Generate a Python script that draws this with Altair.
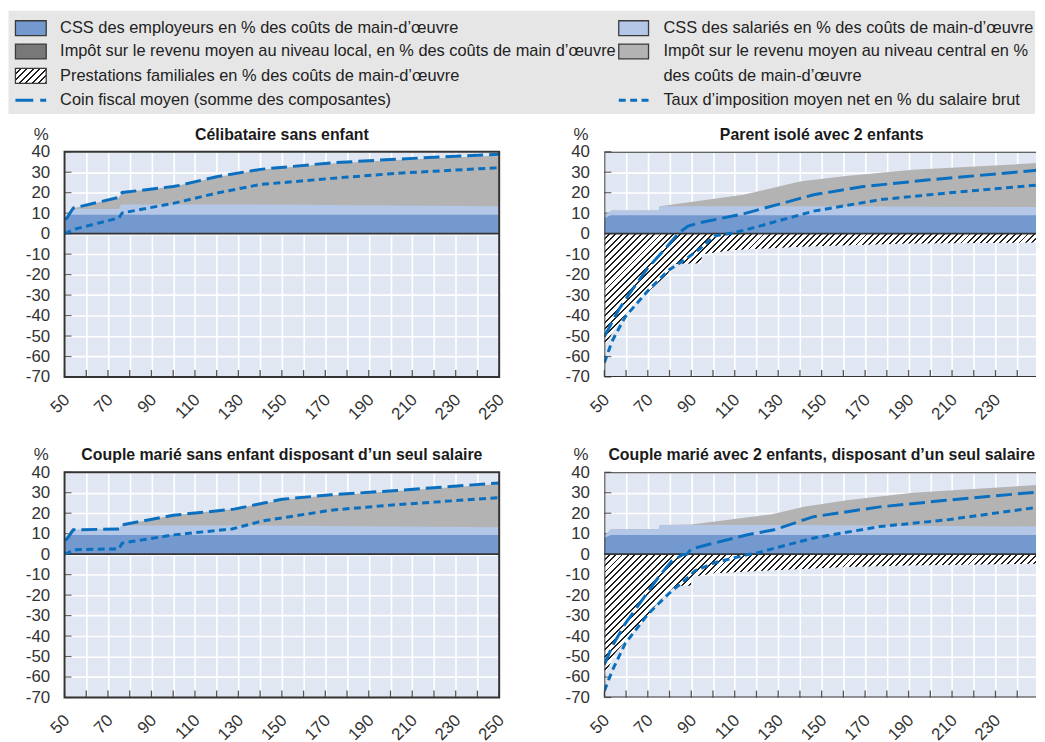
import math
import altair as alt
import pandas as pd

FONT = "Liberation Sans"
W, H = 438, 227
W_RIGHT = 435          # right-hand panels are cut by the page edge, as in the original
X_MAX_RIGHT = 50 + W_RIGHT / W * 200
BG = "#e1e6f3"
DARK_BLUE = "#7399cf"
LIGHT_BLUE = "#b4c7e6"
GRAY = "#b3b3b4"
LOCAL_GRAY = "#787878"
LINE_BLUE = "#0b6fbf"
LEGEND_BG = "#e6e6e6"

X_TICKS = list(range(50, 251, 10))
Y_TICKS = list(range(-70, 41, 10))

TITLES = [
    "Célibataire sans enfant",
    "Parent isolé avec 2 enfants",
    "Couple marié sans enfant disposant d’un seul salaire",
    "Couple marié avec 2 enfants, disposant d’un seul salaire",
]

LEGEND_LEFT = [
    "CSS des employeurs en % des coûts de main-d’œuvre",
    "Impôt sur le revenu moyen au niveau local, en % des coûts de main d’œuvre",
    "Prestations familiales en % des coûts de main-d’œuvre",
    "Coin fiscal moyen (somme des composantes)",
]
LEGEND_RIGHT = [
    "CSS des salariés en % des coûts de main-d’œuvre",
    "Impôt sur le revenu moyen au niveau central en %",
    "des coûts de main-d’œuvre",
    "Taux d’imposition moyen net en % du salaire brut",
]

# ---- Panel 1: Célibataire sans enfant (cumulative tops of each layer) ----
P1_EMPLOYER = [(50, 6.0), (52, 9.2), (250, 9.2)]
P1_EMPLOYEE = [(50, 7.3), (53, 12.1), (75, 12.1), (76, 14.3), (140, 14.3), (250, 13.4)]
P1_CENTRAL = [(50, 7.3), (53, 12.1), (55, 12.6), (75, 17.7), (76.5, 20.1), (100, 23.0),
              (103, 23.6), (120, 27.6), (140, 31.2), (173, 34.3), (203, 36.0), (250, 38.2)]
P1_WEDGE = [(50, 7.3), (51, 7.5), (54, 12.5), (75, 17.7), (76.5, 20.1), (100, 23.0),
            (103, 23.6), (120, 27.8), (140, 31.4), (173, 34.6), (203, 36.4), (250, 38.8)]
P1_NET = [(50, 0.0), (55, 2.3), (75, 7.7), (76.5, 10.1), (100, 14.8), (120, 19.8),
          (140, 24.0), (173, 27.0), (203, 29.5), (250, 32.2)]

# ---- Panel 2: Parent isolé avec 2 enfants ----
P2_EMPLOYER = [(50, 7.6), (53, 9.0), (250, 9.0)]
P2_EMPLOYEE = [(50, 9.0), (53.5, 11.3), (75, 11.3), (75.5, 13.4), (140, 13.4), (250, 13.0)]
P2_CENTRAL = [(50, 9.0), (53.5, 11.3), (75, 11.3), (75.5, 13.4), (114, 19.0), (140, 25.5),
              (160, 28.0), (192, 31.2), (250, 34.5)]
P2_BENEFITS = [(50, -55.0), (55, -46.2), (60, -39.0), (64, -34.1), (70, -28.5), (75, -23.7),
               (79.4, -19.3), (81, -14.8), (94.5, -14.5), (95, -10.0), (110, -8.0),
               (140, -6.4), (190, -4.8), (250, -4.3)]
P2_WEDGE = [(50, -50.2), (56.5, -37.3), (62.6, -27.7), (70.2, -16.4), (77.9, -7.5), (83.9, 0.0),
            (88.5, 3.7), (93.8, 5.3), (114.4, 9.8), (146.3, 19.0), (169.2, 23.0),
            (199.6, 26.3), (250, 31.0)]
P2_NET = [(50, -63.0), (53.5, -52.6), (59.6, -40.6), (70.2, -27.7), (79.4, -18.0), (88.5, -11.6),
          (93.8, -7.5), (100.7, -1.1), (108.3, 0.2), (115.9, 2.1), (146.3, 11.0),
          (176.8, 16.6), (207.2, 19.8), (250, 23.8)]

# ---- Panel 3: Couple marié sans enfant, un seul salaire ----
P3_EMPLOYER = [(50, 5.8), (52, 9.3), (250, 9.3)]
P3_EMPLOYEE = [(50, 7.0), (53, 11.9), (75, 11.9), (76, 14.0), (140, 14.0), (250, 13.2)]
P3_CENTRAL = [(50, 7.0), (53, 11.9), (54, 11.9), (75.3, 12.3), (76.5, 14.3), (100, 19.0),
              (128, 22.0), (150, 26.6), (172.7, 28.8), (203, 30.9), (250, 34.3)]
P3_WEDGE = [(50, 7.0), (51, 7.3), (54, 11.9), (75.3, 12.3), (76.5, 14.3), (100, 19.0),
            (128, 22.0), (150, 26.8), (172.7, 29.0), (203, 31.1), (250, 34.8)]
P3_NET = [(50, 0.0), (51, 0.3), (54.3, 2.2), (75, 2.6), (76.5, 5.4), (100, 9.4), (127, 12.3),
          (141, 16.2), (172.7, 21.5), (203, 24.2), (250, 27.6)]

# ---- Panel 4: Couple marié avec 2 enfants, un seul salaire ----
P4_EMPLOYER = [(50, 7.9), (53, 9.3), (250, 9.3)]
P4_EMPLOYEE = [(50, 9.0), (53, 12.2), (75, 12.2), (75.5, 14.3), (140, 14.3), (250, 13.5)]
P4_CENTRAL = [(50, 9.0), (53, 12.2), (75, 12.2), (75.5, 14.3), (90, 14.5), (126.6, 19.4),
              (141.8, 23.1), (161.6, 26.3), (192, 30.0), (250, 33.8)]
P4_BENEFITS = [(50, -59.6), (54.9, -48.4), (62.6, -38.7), (70.2, -29.9), (76.3, -21.0),
               (83, -15.4), (89.8, -15.4), (90.2, -11.1), (100.7, -9.3), (131, -7.7),
               (161.6, -6.3), (189, -5.5), (250, -4.7)]
P4_WEDGE = [(50, -54.0), (53.5, -45.2), (59.6, -33.9), (67.2, -22.7), (74.8, -11.4), (80.9, -3.4),
            (86.2, -0.2), (88, 0.0), (90, 2.6), (115.9, 9.5), (128.1, 11.9), (146.3, 18.3),
            (176.8, 23.1), (207.2, 26.3), (250, 30.4)]
P4_NET = [(50, -66.8), (53.5, -57.2), (59.6, -43.6), (70.2, -29.1), (79.4, -19.5), (88.5, -11.4),
          (91.6, -8.2), (100.7, -4.2), (115.9, -0.2), (119, 0.3), (146.3, 7.9), (176.8, 13.5),
          (207.2, 16.7), (250, 23.0)]

ONE = pd.DataFrame({"a": [0]})


def pts(points):
    return pd.DataFrame(points, columns=["x", "v"])


def hatch_fill(w, h, spacing=4.6, ink=0.3):
    s = (w + h) / (w * w + h * h)
    n = max(2, int(round((w + h) / math.sqrt(2) / spacing)))
    stops = []
    for i in range(n):
        a = round(i / n, 6)
        b = round((i + 1 - ink) / n, 6)
        c = round((i + 1) / n, 6)
        stops += [
            alt.GradientStop(color="white", offset=a),
            alt.GradientStop(color="white", offset=b),
            alt.GradientStop(color="#1e1e1e", offset=b),
            alt.GradientStop(color="#1e1e1e", offset=c),
        ]
    return alt.LinearGradient(gradient="linear", stops=stops, x1=0, y1=0,
                              x2=round(s * w, 5), y2=round(s * h, 5))


def legend_layers():
    # legend drawn above the first panel, positions relative to its plot origin
    row_y = [-124.5, -101, -76.5, -52]
    lsw, rsw = (-49.5, -18.5), (558.5, 588.5)
    ltx, rtx = -4.5, 603.5
    out = [alt.Chart(ONE).mark_rect(color=LEGEND_BG).encode(
        x=alt.value(-56.5), x2=alt.value(978), y=alt.value(-142), y2=alt.value(-38))]
    for (x0, x1), y, c in [(lsw, row_y[0], DARK_BLUE), (lsw, row_y[1], LOCAL_GRAY),
                           (rsw, row_y[0], LIGHT_BLUE), (rsw, row_y[1], GRAY)]:
        out.append(alt.Chart(ONE).mark_rect(fill=c, stroke="#3a3a3a", strokeWidth=1.3).encode(
            x=alt.value(x0), x2=alt.value(x1), y=alt.value(y - 7.5), y2=alt.value(y + 7.5)))
    out.append(alt.Chart(ONE).mark_rect(fill=hatch_fill(31, 15, spacing=4.4, ink=0.35),
                                        stroke="#3a3a3a", strokeWidth=1.3).encode(
        x=alt.value(lsw[0]), x2=alt.value(lsw[1]), y=alt.value(row_y[2] - 7.5),
        y2=alt.value(row_y[2] + 7.5)))
    out.append(alt.Chart(ONE).mark_rule(color=LINE_BLUE, strokeWidth=3, strokeDash=[18, 7]).encode(
        x=alt.value(lsw[0]), x2=alt.value(lsw[1]), y=alt.value(row_y[3])))
    out.append(alt.Chart(ONE).mark_rule(color=LINE_BLUE, strokeWidth=3, strokeDash=[7, 4.5]).encode(
        x=alt.value(rsw[0]), x2=alt.value(rsw[1]), y=alt.value(row_y[3])))
    for labels, tx in [(LEGEND_LEFT, ltx), (LEGEND_RIGHT, rtx)]:
        for lab, y in zip(labels, row_y):
            out.append(alt.Chart(ONE).mark_text(align="left", baseline="middle", fontSize=16.5,
                                                font=FONT, color="#222").encode(
                x=alt.value(tx), y=alt.value(y), text=alt.value(lab)))
    return out


def panel(title, emp, ee, tax, wedge, net, ben=None, extra=None, right=False):
    xmax = X_MAX_RIGHT if right else 250
    width = W_RIGHT if right else W
    ticks = [t for t in X_TICKS if t <= xmax]
    clip = bool(right)
    xs = alt.Scale(domain=[50, xmax], nice=False, zero=False)
    ys = alt.Scale(domain=[-70, 40], nice=False, zero=False)
    xax = alt.Axis(values=ticks, grid=True, gridColor="white", gridWidth=1.6,
                   ticks=False, domain=False, title=None,
                   labelExpr="(datum.value - 50) % 20 == 0 ? '' + datum.value : ''",
                   labelAngle=-45, labelAlign="right", labelBaseline="middle",
                   labelPadding=20, labelOffset=2, labelFontSize=17, labelColor="#333",
                   labelFont=FONT, labelOverlap=False)
    yax = alt.Axis(values=Y_TICKS, grid=True, gridColor="white", gridWidth=1.6,
                   ticks=False, domain=False, labelExpr="'' + datum.value", title=None,
                   labelFontSize=17, labelColor="#333", labelFont=FONT, labelPadding=15)

    def X(f):
        return alt.X(f, type="quantitative", scale=xs, axis=xax)

    def Y(f):
        return alt.Y(f, type="quantitative", scale=ys, axis=yax)

    def area(points, color):
        return alt.Chart(pts(points)).mark_area(color=color, opacity=1, clip=clip).encode(
            x=X("x"), y=Y("v"), y2=alt.Y2Datum(0))

    layers = list(extra or [])
    layers += [
        alt.Chart(pd.DataFrame({"t": Y_TICKS})).mark_rule(color="#666", strokeWidth=1.2).encode(
            y=Y("t"), x=alt.value(0), x2=alt.value(7)),
        area(tax, GRAY),
        area(ee, LIGHT_BLUE),
        area(emp, DARK_BLUE),
    ]
    if ben is not None:
        h = -min(v for _, v in ben) / 110.0 * H
        layers.append(alt.Chart(pts(ben)).mark_area(fill=hatch_fill(W, h), opacity=1,
                                                     clip=clip).encode(
            x=X("x"), y=Y("v"), y2=alt.Y2Datum(0)))
    layers += [
        alt.Chart(ONE).mark_rule(color="#333", strokeWidth=1.8).encode(
            y=alt.YDatum(0, type="quantitative", scale=ys, axis=yax)),
        alt.Chart(pts(wedge)).mark_line(color=LINE_BLUE, strokeWidth=3, strokeDash=[16, 6],
                                        clip=clip).encode(x=X("x"), y=Y("v")),
        alt.Chart(pts(net)).mark_line(color=LINE_BLUE, strokeWidth=3, strokeDash=[7, 4.5],
                                      clip=clip).encode(x=X("x"), y=Y("v")),
        alt.Chart(pd.DataFrame({"t": ticks})).mark_rule(color="#555", strokeWidth=1.3).encode(
            x=X("t"), y=alt.value(H), y2=alt.value(H - 7)),
        alt.Chart(ONE).mark_rect(filled=False, stroke="#333", strokeWidth=2, clip=clip).encode(
            x=alt.XDatum(50, type="quantitative", scale=xs, axis=xax), x2=alt.X2Datum(250),
            y=alt.YDatum(-70, type="quantitative", scale=ys, axis=yax), y2=alt.Y2Datum(40)),
        # panel title and "%" unit label
        alt.Chart(ONE).mark_text(fontSize=16, fontWeight="bold", font=FONT, color="#1a1a1a",
                                 baseline="alphabetic", align="center").encode(
            x=alt.XDatum(150, type="quantitative", scale=xs, axis=xax), y=alt.value(-12),
            text=alt.value(title)),
        alt.Chart(ONE).mark_text(fontSize=17, font=FONT, color="#333",
                                 baseline="alphabetic", align="center").encode(
            x=alt.value(-23.5), y=alt.value(-12), text=alt.value("%")),
    ]
    return alt.layer(*layers).properties(
        width=width, height=H,
        view=alt.ViewBackground(fill=BG, strokeWidth=0),
    )


p1 = panel(TITLES[0], P1_EMPLOYER, P1_EMPLOYEE, P1_CENTRAL, P1_WEDGE, P1_NET,
           extra=legend_layers())
p2 = panel(TITLES[1], P2_EMPLOYER, P2_EMPLOYEE, P2_CENTRAL, P2_WEDGE, P2_NET, P2_BENEFITS,
           right=True)
p3 = panel(TITLES[2], P3_EMPLOYER, P3_EMPLOYEE, P3_CENTRAL, P3_WEDGE, P3_NET)
p4 = panel(TITLES[3], P4_EMPLOYER, P4_EMPLOYEE, P4_CENTRAL, P4_WEDGE, P4_NET, P4_BENEFITS,
           right=True)

chart = alt.concat(p1, p2, p3, p4, columns=2, spacing={"row": 96, "column": 106},
                   bounds="flush").properties(
    padding=0
).configure(font=FONT).configure_view(strokeWidth=0)

chart.save("out.html", embed_options={"renderer": "svg", "actions": False})
